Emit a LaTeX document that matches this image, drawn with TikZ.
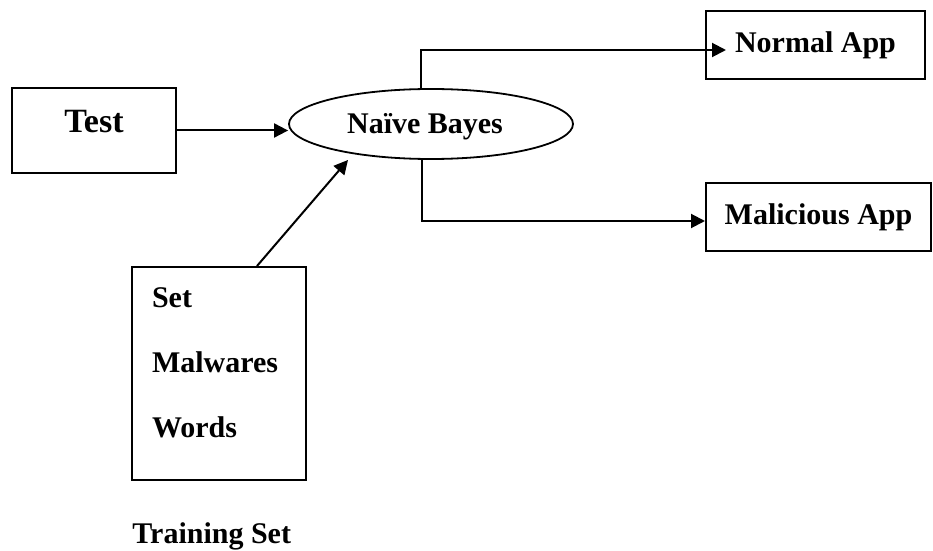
\documentclass[tikz,border=0pt]{standalone}
\usepackage{fontspec}
\setmainfont{Liberation Serif}
\usepackage{tikz}
\usetikzlibrary{shapes.geometric, arrows.meta, positioning, calc}

\begin{document}
\begin{tikzpicture}[
  x=0.5pt, y=-0.5pt,
  box/.style={rectangle, draw, line width=1pt, inner sep=0pt, font=\fontsize{15}{18}\selectfont\bfseries},
  oval/.style={ellipse, draw, line width=0.9pt, inner sep=0pt, minimum width=142pt, minimum height=35pt, font=\fontsize{15}{18}\selectfont\bfseries},
  lbl/.style={inner sep=0pt, font=\fontsize{15}{18}\selectfont\bfseries},
  arrow/.style={-{Triangle[length=7pt,width=7pt]}, line width=1pt}
]
  \useasboundingbox (0,0) rectangle (933,551);
  \node[box, minimum width=82pt, minimum height=42.5pt, font=\fontsize{17}{20}\selectfont\bfseries, text height=11pt, text depth=8.5pt] (test) at (94,130.5) {Test};
  \node[oval, text height=11pt, text depth=1pt] (bayes) at (431,124) {Naïve Bayes\kern6pt};
  \node[box, minimum width=109.5pt, minimum height=34pt] (normal) at (815.5,45) {Normal App};
  \node[box, minimum width=112.5pt, minimum height=34pt] (malicious) at (818.5,217) {Malicious App};
  \node[box, minimum width=87pt, minimum height=106.5pt, text width=67pt, align=left, text height=10.2pt, text depth=76.7pt, font=\fontsize{15}{32.75}\selectfont\bfseries] (train) at (219,373.5) {Set\\Malwares\\Words};
  \node[lbl, anchor=base west] (trainlbl) at ([xshift=0.5pt, yshift=-31pt]train.south west) {Training Set};
  \draw[arrow] (test.east) -- (test.east -| bayes.west);
  \draw[arrow] ([xshift=-5pt]bayes.north) |- ([xshift=10.5pt, yshift=-2.5pt]normal.west);
  \draw[arrow] ([xshift=-4.5pt]bayes.south) |- ([yshift=-2pt]malicious.west);
  \draw[arrow] ([xshift=19pt]train.north) -- ([shift={(-41.5pt,-18pt)}]bayes.center);
\end{tikzpicture}
\end{document}
